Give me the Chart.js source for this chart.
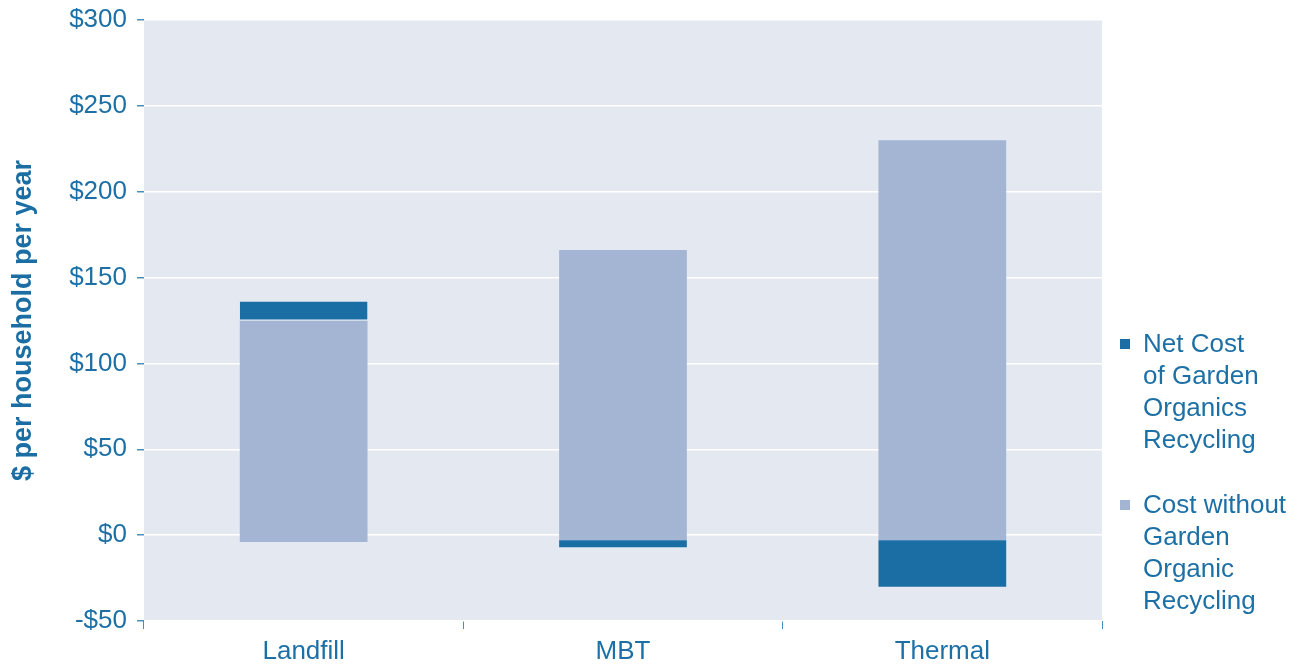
<!DOCTYPE html>
<html>
<head>
<meta charset="utf-8">
<script src="https://cdn.jsdelivr.net/npm/chart.js@4/dist/chart.umd.min.js"></script>
<style>
  html, body { margin: 0; padding: 0; background: #fff; }
  #wrap { position: relative; width: 1301px; height: 667px; }
  #legend { position: absolute; left: 1116px; top: 327px; font-family: "Liberation Sans", Arial, sans-serif;
            font-size: 26px; line-height: 32px; color: #1d70a6; }
  .item { position: relative; padding-left: 27px; margin-bottom: 33px; white-space: nowrap; }
  .sw { position: absolute; left: 4px; top: 12px; width: 10px; height: 10px; }
</style>
</head>
<body>
<div id="wrap">
  <canvas id="chart" width="1301" height="667"></canvas>
  <div id="legend"></div>
</div>
<script>
// categories and floating bar ranges [low, high]
const categories = ['Landfill', 'MBT', 'Thermal'];
const costWithout = [[-4, 125], [-3, 166], [-3, 230]];
const netCost = [[125, 136], [-3, -7], [-3, -30]];
const legendNet = ['Net Cost', 'of Garden', 'Organics', 'Recycling'];
const legendWithout = ['Cost without', 'Garden', 'Organic', 'Recycling'];

const DARK = '#1a6ea3';
const LIGHT = '#a3b5d3';
const TEXT = '#1d70a6';
const FONT = '"Liberation Sans", Arial, sans-serif';

const plotBg = {
    id: 'plotBg',
    beforeDraw(chart) {
        const a = chart.chartArea;
        const c = chart.ctx;
        c.save();
        c.fillStyle = '#e4e8f1';
        c.fillRect(a.left, a.top, a.right - a.left, a.bottom - a.top);
        c.restore();
    }
};

new Chart(document.getElementById('chart').getContext('2d'), {
    type: 'bar',
    data: {
        labels: categories,
        datasets: [
            {
                label: legendNet.join(' '),
                data: netCost,
                backgroundColor: DARK,
                borderColor: '#ffffff',
                borderSkipped: false,
                borderWidth: ctx => ctx.dataIndex === 0 ? { top: 0, left: 0, right: 0, bottom: 1 } : 0,
                grouped: false,
                order: 1
            },
            {
                label: legendWithout.join(' '),
                data: costWithout,
                backgroundColor: LIGHT,
                borderWidth: 0,
                grouped: false,
                order: 2
            }
        ]
    },
    options: {
        responsive: false,
        animation: false,
        events: [],
        layout: { padding: { top: 20, right: 199, bottom: 0, left: 0 } },
        categoryPercentage: 1,
        barPercentage: 0.4,
        plugins: {
            legend: { display: false },
            tooltip: { enabled: false }
        },
        scales: {
            x: {
                afterFit: s => { s.height = 46; s.paddingLeft = 0; s.paddingRight = 0; },
                border: { display: false },
                grid: { offset: true, drawOnChartArea: false, tickLength: 8, tickColor: '#4a8ec0', lineWidth: 1 },
                ticks: { color: TEXT, font: { family: FONT, size: 26 }, padding: 7 }
            },
            y: {
                min: -50,
                max: 300,
                afterFit: s => { s.width = 144; s.paddingTop = 0; s.paddingBottom = 0; },
                border: { display: false },
                grid: { color: '#ffffff', lineWidth: 1.5, tickLength: 7, tickColor: '#4a8ec0' },
                ticks: {
                    stepSize: 50,
                    color: TEXT,
                    padding: 10,
                    font: { family: FONT, size: 26 },
                    callback: v => (v < 0 ? '-$' : '$') + Math.abs(v)
                },
                title: {
                    display: true,
                    text: '$ per household per year',
                    color: '#1a6ea3',
                    padding: { top: 7, bottom: 0 },
                    font: { family: FONT, size: 27, weight: 'bold' }
                }
            }
        }
    },
    plugins: [plotBg]
});

// html legend (multi-line labels)
const legend = document.getElementById('legend');
[[legendNet, DARK], [legendWithout, LIGHT]].forEach(([lines, color]) => {
    const item = document.createElement('div');
    item.className = 'item';
    const sw = document.createElement('span');
    sw.className = 'sw';
    sw.style.background = color;
    item.appendChild(sw);
    lines.forEach((t, i) => {
        if (i) item.appendChild(document.createElement('br'));
        item.appendChild(document.createTextNode(t));
    });
    legend.appendChild(item);
});
</script>
</body>
</html>
